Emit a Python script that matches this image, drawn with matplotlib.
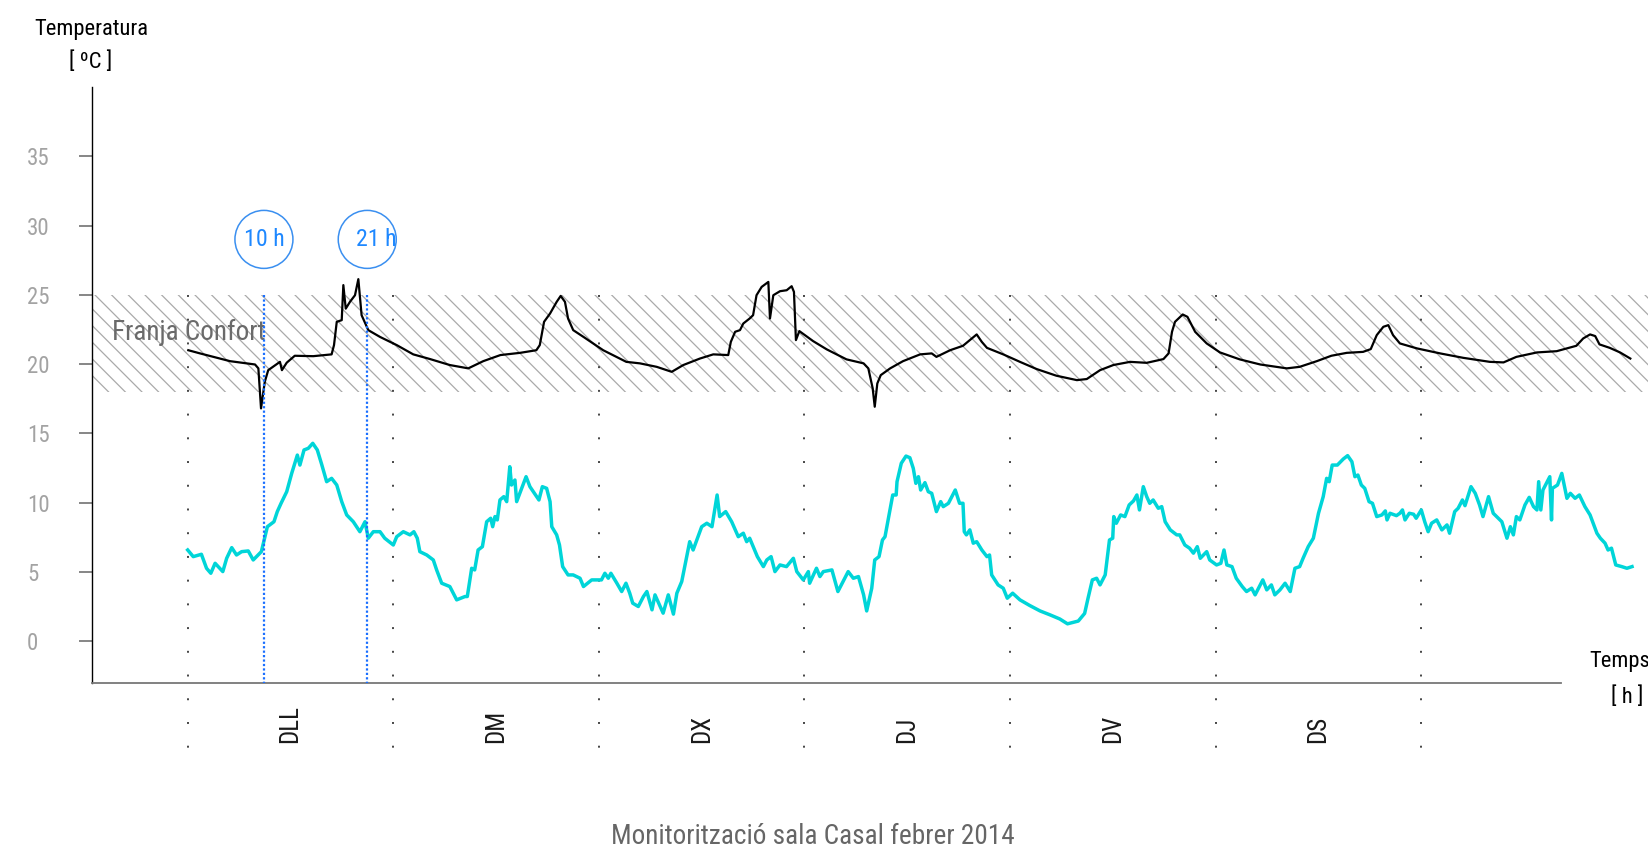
import matplotlib
matplotlib.use("Agg")
import matplotlib.pyplot as plt
from matplotlib import font_manager

# font: narrow sans if there is one
installed = {f.name for f in font_manager.fontManager.ttflist}
font = "DejaVu Sans"
for cand in ["Roboto Condensed", "Liberation Sans Narrow", "Noto Sans Condensed",
             "Open Sans Condensed", "Arial Narrow"]:
    if cand in installed:
        font = cand
        break
plt.rcParams["font.family"] = [font, "DejaVu Sans"]
plt.rcParams["hatch.linewidth"] = 0.9

# hours from Monday 00h, temperatures in degC
indoor_h = [0.07, 1.44, 3.0, 4.94, 6.89, 7.86, 8.25, 8.56, 9.0, 9.4, 10.77, 11.0, 11.56,
            12.5, 14.66, 16.8, 17.08, 17.4, 17.98, 18.17, 18.45, 18.95, 19.53, 19.92, 20.3,
            21.08, 22.45, 24.4, 26.33, 28.3, 30.6, 32.75, 34.5, 36.5, 38.8, 40.7, 41.1, 41.6,
            42.3, 43.07, 43.54, 44.04, 44.4, 45.0, 46.2, 48.5, 51.2, 52.8, 54.75, 56.5, 57.85,
            59.8, 61.35, 63.1, 63.4, 63.9, 64.47, 64.86, 65.6, 66.0, 66.4, 67.0, 67.78, 67.97,
            68.36, 69.14, 69.92, 70.5, 70.77, 71.0, 71.4, 73.0, 74.6, 76.9, 78.9, 79.45, 79.96,
            80.2, 80.5, 80.9, 82.0, 83.5, 85.5, 86.85, 87.4, 89.0, 90.5, 91.3, 92.1, 92.7, 93.3,
            95.2, 97.15, 99.1, 101.4, 103.8, 104.95, 106.5, 108.05, 110.0, 111.95, 113.9,
            114.5, 114.9, 115.25, 116.15, 116.7, 117.6, 118.95, 120.5, 122.8, 125.2, 128.3,
            129.8, 131.8, 133.5, 135.3, 137.2, 138.1, 138.8, 139.57, 140.15, 140.7, 141.5,
            143.5, 146.2, 148.9, 152.0, 153.6, 155.1, 157.5, 159.8, 162.1, 162.9, 163.7, 164.3,
            164.8, 166.0, 167.2, 168.4]
indoor_t = [21.0, 20.77, 20.52, 20.21, 20.05, 19.97, 19.69, 16.8, 18.72, 19.56, 20.16, 19.56,
            20.1, 20.6, 20.57, 20.7, 21.37, 23.05, 23.17, 25.7, 24.0, 24.5, 24.97, 26.13, 23.53,
            22.45, 21.96, 21.37, 20.7, 20.36, 19.93, 19.69, 20.21, 20.65, 20.81, 21.0, 21.37,
            23.05, 23.65, 24.49, 24.92, 24.49, 23.29, 22.45, 21.96, 21.0, 20.16, 20.05, 19.8,
            19.44, 19.93, 20.4, 20.7, 20.65, 21.6, 22.33, 22.45, 22.93, 23.29, 23.53, 24.97,
            25.57, 25.93, 23.29, 24.97, 25.26, 25.33, 25.62, 25.21, 21.73, 22.38, 21.66, 21.06,
            20.34, 20.05, 19.69, 18.25, 16.92, 18.6, 19.2, 19.69, 20.21, 20.7, 20.77, 20.52,
            21.0, 21.32, 21.73, 22.14, 21.6, 21.17, 20.7, 20.16, 19.64, 19.16, 18.84, 18.92,
            19.56, 19.93, 20.16, 20.09, 20.36, 20.77, 22.33, 23.05, 23.58, 23.41, 22.33, 21.49,
            20.84, 20.34, 19.97, 19.69, 19.8, 20.21, 20.6, 20.81, 20.88, 21.08, 22.09, 22.69,
            22.81, 22.09, 21.49, 21.13, 20.77, 20.45, 20.16, 20.12, 20.52, 20.84, 20.93, 21.32,
            21.85, 22.14, 22.02, 21.42, 21.17, 20.84, 20.4]

outdoor_h = [0.0, 0.65, 1.6, 2.2, 2.7, 3.2, 4.1, 4.55, 5.14, 5.7, 6.3, 7.07, 7.65, 8.6, 9.3,
             10.07, 10.46, 10.9, 11.56, 12.14, 12.8, 13.1, 13.58, 14.08, 14.6, 15.13, 15.64,
             16.22, 16.8, 17.4, 17.98, 18.56, 19.33, 20.1, 20.7, 21.08, 21.67, 22.45, 23.0,
             24.0, 24.4, 25.17, 25.95, 26.4, 26.8, 27.1, 27.9, 28.67, 29.06, 29.65, 30.6, 31.4,
             32.37, 32.64, 33.15, 33.5, 33.9, 34.4, 34.9, 35.37, 35.6, 35.87, 36.14, 36.45,
             36.9, 37.24, 37.6, 37.8, 38.2, 38.4, 38.99, 39.5, 39.95, 40.6, 41.0, 41.4, 41.9,
             42.3, 42.5, 43.07, 43.4, 43.77, 44.4, 45.0, 45.8, 46.2, 47.16, 48.3, 48.7, 49.1,
             49.4, 50.1, 50.66, 51.16, 51.6, 51.95, 52.6, 53.2, 53.6, 54.2, 54.55, 55.5, 56.1,
             56.7, 57.1, 57.67, 58.25, 58.6, 59.0, 60.0, 60.6, 61.2, 61.8, 62.1, 62.8, 63.5,
             64.27, 64.86, 65.25, 65.6, 66.5, 67.2, 67.6, 68.1, 68.55, 69.14, 69.9, 70.7, 71.1,
             71.86, 72.45, 72.6, 73.4, 73.8, 74.2, 75.2, 75.9, 77.1, 77.7, 78.3, 78.9, 79.26,
             79.85, 80.2, 80.7, 81.1, 81.4, 81.8, 82.3, 82.7, 82.8, 83.3, 83.85, 84.3, 84.7,
             85.0, 85.3, 85.56, 86.06, 86.45, 86.85, 87.4, 87.9, 88.2, 88.8, 89.6, 90.1, 90.5,
             90.65, 90.9, 91.3, 91.7, 92.1, 92.7, 93.3, 93.6, 93.85, 94.6, 95.2, 95.67, 96.3,
             97.15, 98.3, 99.5, 100.65, 101.8, 102.7, 103.96, 104.7, 105.1, 105.6, 106.1, 106.5,
             107.1, 107.6, 107.98, 108.1, 108.4, 108.9, 109.4, 109.9, 110.4, 110.8, 111.1,
             111.55, 111.95, 112.3, 112.7, 113.3, 113.7, 114.1, 114.7, 115.45, 115.8, 116.4,
             116.95, 117.4, 117.85, 118.2, 118.95, 119.3, 120.1, 120.6, 120.97, 121.3, 121.9,
             122.4, 123.1, 123.6, 124.2, 124.6, 125.5, 125.96, 126.5, 126.9, 127.5, 128.1,
             128.7, 129.25, 129.8, 130.2, 130.8, 131.4, 132.0, 132.55, 132.95, 133.25, 133.6,
             134.2, 134.9, 135.4, 135.9, 136.25, 136.6, 137.0, 137.4, 137.9, 138.3, 138.8,
             139.4, 139.8, 140.0, 140.35, 141.1, 141.5, 141.8, 142.1, 142.6, 143.1, 143.4,
             144.0, 144.4, 144.8, 145.2, 145.8, 146.4, 147.0, 147.3, 147.9, 148.3, 148.8,
             149.1, 149.8, 150.3, 150.8, 151.2, 151.85, 152.4, 153.0, 153.4, 154.0, 154.4,
             154.75, 155.1, 155.5, 156.1, 156.6, 157.1, 157.5, 157.7, 157.95, 158.2, 158.6,
             159.0, 159.2, 159.3, 159.9, 160.4, 161.0, 161.4, 161.95, 162.45, 163.1, 163.7,
             164.5, 164.9, 165.45, 165.8, 166.2, 166.7, 167.4, 168.0, 168.6]
outdoor_t = [6.58, 6.1, 6.27, 5.26, 4.9, 5.62, 5.02, 5.98, 6.75, 6.22, 6.46, 6.51, 5.86, 6.46,
             8.26, 8.62, 9.35, 9.95, 10.79, 12.11, 13.43, 12.71, 13.8, 13.92, 14.28, 13.8,
             12.76, 11.51, 11.75, 11.27, 10.07, 9.11, 8.62, 7.9, 8.62, 7.43, 7.9, 7.9, 7.43,
             6.94, 7.54, 7.9, 7.67, 7.9, 7.43, 6.46, 6.22, 5.86, 5.14, 4.18, 3.94, 2.98, 3.22,
             3.22, 5.26, 5.14, 6.58, 6.82, 8.62, 8.87, 8.26, 8.99, 8.75, 10.19, 10.43, 10.07,
             12.59, 11.27, 11.63, 10.07, 11.03, 11.87, 11.15, 10.55, 10.19, 11.15, 11.03, 10.07,
             8.26, 7.67, 6.94, 5.38, 4.78, 4.78, 4.54, 3.94, 4.42, 4.42, 4.9, 4.54, 4.9, 4.18,
             3.58, 4.18, 3.46, 2.74, 2.5, 3.22, 3.58, 2.26, 3.34, 2.02, 3.34, 1.95, 3.46, 4.3,
             6.1, 7.18, 6.58, 8.26, 8.51, 8.26, 10.55, 8.99, 9.35, 8.62, 7.54, 7.79, 7.18, 7.43,
             6.1, 5.38, 5.86, 6.1, 5.02, 5.5, 5.38, 5.98, 5.02, 4.42, 5.02, 4.18, 5.26, 4.66,
             5.02, 5.14, 3.58, 5.02, 4.54, 4.66, 3.34, 2.18, 3.82, 5.86, 6.1, 7.3, 7.54, 8.87,
             10.55, 10.55, 11.51, 12.84, 13.36, 13.24, 12.47, 11.39, 11.87, 10.91, 11.44, 10.79,
             10.67, 9.35, 10.07, 9.71, 9.95, 10.91, 9.95, 9.95, 7.9, 7.67, 8.03, 7.07, 7.18,
             6.58, 6.1, 6.22, 4.78, 4.06, 3.82, 3.1, 3.46, 2.98, 2.57, 2.18, 1.9, 1.6, 1.25,
             1.45, 2.0, 3.1, 4.42, 4.54, 4.06, 4.78, 7.3, 7.43, 8.99, 8.51, 9.11, 8.99, 9.83,
             10.12, 10.55, 9.47, 11.15, 10.43, 9.95, 10.19, 9.59, 9.71, 8.62, 8.03, 7.67, 7.67,
             6.94, 6.71, 6.35, 6.82, 5.98, 6.46, 5.86, 5.5, 5.62, 6.58, 5.5, 5.38, 4.54, 3.94,
             3.58, 3.82, 3.34, 4.42, 3.7, 4.06, 3.34, 3.7, 4.18, 3.58, 5.26, 5.38, 5.98, 6.82,
             7.43, 9.23, 10.43, 11.75, 11.51, 12.71, 12.71, 13.15, 13.39, 12.95, 11.87, 11.99,
             11.27, 11.03, 10.07, 9.95, 8.99, 9.11, 9.4, 8.75, 9.23, 9.06, 9.23, 9.47, 8.75,
             9.23, 9.16, 8.87, 9.47, 8.62, 7.9, 8.51, 8.75, 8.03, 8.39, 7.79, 9.35, 9.59, 10.19,
             9.78, 11.15, 10.67, 9.83, 8.99, 10.43, 9.23, 8.87, 8.62, 7.43, 8.26, 7.67, 8.99,
             8.75, 9.83, 10.38, 9.71, 9.47, 11.51, 9.47, 10.91, 11.39, 11.87, 8.75, 11.03,
             11.27, 12.11, 10.31, 10.67, 10.31, 10.55, 9.71, 9.11, 7.79, 7.43, 7.07, 6.58, 6.71,
             5.5, 5.38, 5.26, 5.38]

day_labels = ["DLL", "DM", "DX", "DJ", "DV", "DS"]
hour_marks = [8.9, 20.96]
hour_texts = ["10 h", "21 h"]
comfort = (18, 25)
yticks = [0, 5, 10, 15, 20, 25, 30, 35]

W, H = 1649, 863
fig = plt.figure(figsize=(W / 100, H / 100), dpi=100)
ax = fig.add_axes([92 / W, 180.3 / H, 1 - 92 / W, (682.7 - 87) / H])
x0, x1 = -11.17, 170.58
ax.set_xlim(x0, x1)
ax.set_ylim(-3, 40)

for s in ["top", "right"]:
    ax.spines[s].set_visible(False)
ax.spines["left"].set_color("black")
ax.spines["left"].set_linewidth(1.0)
ax.spines["bottom"].set_color("#777777")
ax.spines["bottom"].set_linewidth(1.3)
ax.spines["bottom"].set_bounds(x0, 160.3)

ax.set_xticks([])
ax.set_yticks(yticks)
ax.tick_params(axis="y", length=9.4, width=1.1, color="#666666", labelcolor="#a3a3a3",
               labelsize=16.5, pad=37.4)
for lbl in ax.get_yticklabels():
    lbl.set_ha("left")

# comfort band
ax.fill_between([x0, x1], comfort[0], comfort[1], facecolor="none", edgecolor="#aaaaaa",
                hatch="\\\\", linewidth=0, zorder=1)
ax.text(-8.78, 21.73, "Franja Confort", fontsize=19.6, color="#6a6a6a", va="baseline",
        ha="left", zorder=2)

# day separators
for d in range(7):
    ax.plot([24 * d, 24 * d], [25, -9.0], color="#444444", lw=1.4, ls=(0, (1, 11.2)),
            clip_on=False, zorder=2)
for i, lab in enumerate(day_labels):
    ax.text(12 + 24 * i, -7.33, lab, rotation=90, ha="center", va="bottom", fontsize=18,
            color="#1a1a1a", clip_on=False)

ax.plot(indoor_h, indoor_t, color="black", lw=1.6, zorder=3)
ax.plot(outdoor_h, outdoor_t, color="#00d5d8", lw=2.5, zorder=3)

# heating on / off marks
for hm, txt, dx in zip(hour_marks, hour_texts, [0, 1.1]):
    ax.plot([hm, hm], [25, -3], color="#1a6fff", lw=1.6, ls=(0, (1, 1)), zorder=4)
    ax.scatter([hm], [29], s=1744, facecolors="none", edgecolors="#3a8ff0", linewidths=1.1,
               zorder=4, clip_on=False)
    ax.text(hm + dx, 29, txt, ha="center", va="center", color="#1e88ff", fontsize=17.2,
            zorder=5)

fig.text(91 / W, 1 - 29 / H, "Temperatura", ha="center", va="center", fontsize=16.2)
fig.text(91 / W, 1 - 62 / H, "[ ºC ]", ha="center", va="center", fontsize=16.2)
fig.text(1620 / W, 1 - 661.7 / H, "Temps", ha="center", va="center", fontsize=16.2)
fig.text(1627 / W, 1 - 696.7 / H, "[ h ]", ha="center", va="center", fontsize=16.2)
fig.text(813 / W, 1 - 836 / H, "Monitorització sala Casal febrer 2014", ha="center",
         va="center", fontsize=19.6, color="#666666")

fig.savefig("out.png", dpi=100)
